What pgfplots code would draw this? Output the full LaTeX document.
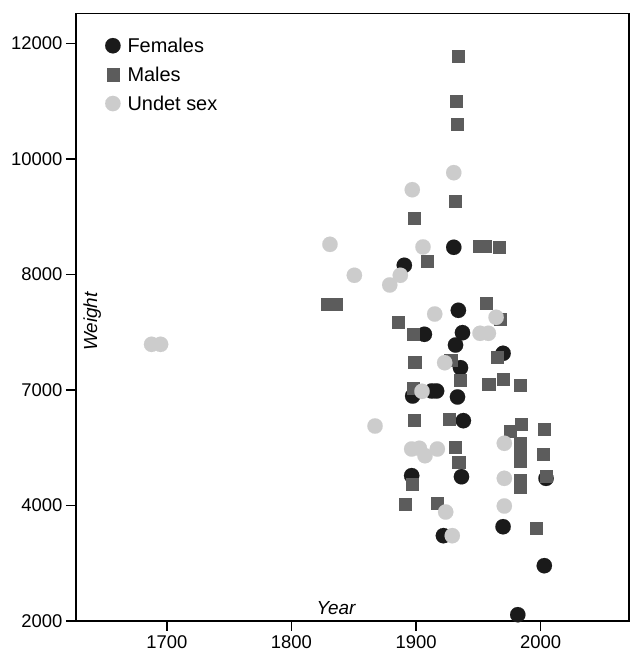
\documentclass[border=0pt]{standalone}
\usepackage{fontspec}
\setmainfont{Liberation Sans}
\usepackage{pgfplots}
\pgfplotsset{compat=1.18}
\definecolor{fem}{HTML}{1A1A1A}
\definecolor{mal}{HTML}{5C5C5C}
\definecolor{und}{HTML}{CCCCCC}
\begin{document}
\begin{tikzpicture}
\begin{axis}[
  name=ax,
  scale only axis,
  width=553bp, height=607.5bp,
  xmin=1627, xmax=2071,
  ymin=2000, ymax=12522,
  axis line style={line width=1.6bp},
  xtick={1700,1800,1900,2000},
  xticklabels={1700,1800,1900,2000},
  ytick={2000,4000,6000,8000,10000,12000},
  yticklabels={2000,4000,7000,8000,10000,12000},
  tick align=outside, tick pos=left,
  major tick length=10bp,
  tick style={black, line width=1.3bp},
  tick label style={font=\fontsize{18.5}{21}\selectfont},
  xticklabel style={yshift=-1bp},
  xlabel={Year}, ylabel={Weight},
  xlabel style={at={(rel axis cs:0.4286,0.0115)}, anchor=base west, font=\itshape\fontsize{19}{22}\selectfont},
  ylabel style={at={(rel axis cs:0.038,0.493)}, anchor=base, font=\itshape\fontsize{19}{22}\selectfont},
  legend cell align=left,
  legend style={draw=none, fill=none, at={(0.047,0.967)}, anchor=north west,
    font=\fontsize{20}{24}\selectfont, row sep=9bp, column sep=5bp},
]
% Females
\addplot[only marks, mark=*, mark size=7.7bp, color=fem, line width=0.1bp] coordinates {
(1930.3,8473) (1890.6,8161) (1934.0,7381) (1906.7,6966) (1937.3,6994)
(1931.7,6780) (1969.9,6636) (1935.7,6387) (1897.3,5897) (1912.6,5984)
(1916.5,5984) (1933.3,5880) (1938.0,5470) (1936.5,4499) (1896.5,4517)
(2004.4,4471) (1969.9,3633) (1922.0,3478) (2003.0,2958) (1981.7,2109)
};
% Males
\addplot[only marks, mark=square*, mark size=6.1bp, color=mal, line width=0.1bp] coordinates {
(1934.0,11786) (1932.4,11006) (1932.9,10603) (1931.3,9274) (1898.6,8980)
(1950.6,8500) (1955.6,8500) (1966.7,8483) (1908.8,8235) (1828.3,7490)
(1835.5,7490) (1956.2,7508) (1967.5,7231) (1885.3,7184) (1897.9,6966)
(1965.0,6567) (1898.8,6486) (1927.7,6520) (1935.3,6174) (1958.2,6100)
(1969.9,6197) (1983.5,6082) (1897.9,6030) (1898.6,5476) (1926.3,5499)
(1975.5,5296) (1984.3,5407) (2003.0,5320) (1931.3,5008) (1934.2,4759)
(1983.5,5083) (1983.5,4927) (1983.5,4771) (2002.3,4898) (1896.5,4373)
(1983.5,4442) (1983.5,4327) (2004.2,4511) (1891.2,4021) (1916.9,4038)
(1996.6,3605)
};
% Undetermined sex
\addplot[only marks, mark=*, mark size=7.7bp, color=und, line width=0.1bp] coordinates {
(1687.7,6792) (1694.9,6792) (1930.3,9765) (1897.0,9470) (1830.9,8524)
(1905.6,8478) (1850.5,7988) (1887.4,7988) (1878.9,7820) (1915.0,7317)
(1964.3,7260) (1923.0,6474) (1951.4,6983) (1958.1,6983) (1904.8,5978)
(1867.1,5377) (1896.5,4979) (1902.7,4991) (1907.2,4863) (1917.1,4979)
(1970.9,5078) (1970.9,4471) (1923.8,3888) (1970.9,3992) (1929.1,3478)
};
\legend{Females, Males, Undet sex}
\end{axis}
\pgfresetboundingbox
\path[use as bounding box] ([shift={(-76bp,-31bp)}]ax.south west) rectangle ([shift={(3bp,13.5bp)}]ax.north east);
\end{tikzpicture}
\end{document}
